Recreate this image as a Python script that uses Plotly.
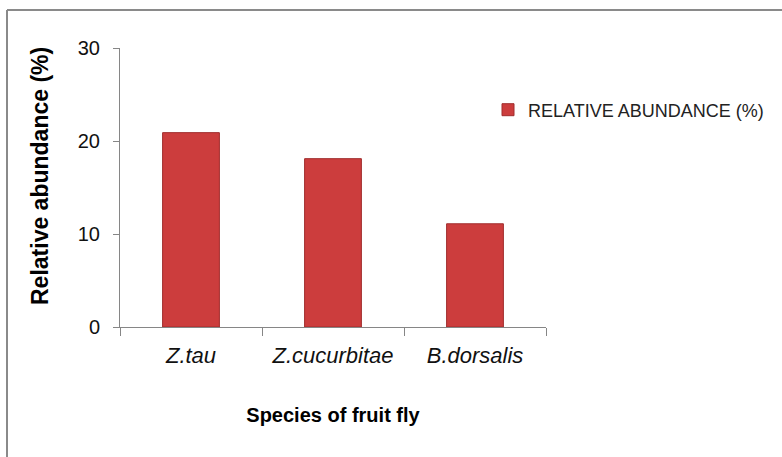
import plotly.graph_objects as go

species = ["Z.tau", "Z.cucurbitae", "B.dorsalis"]
abundance = [20.9, 18.1, 11.1]
y_ticks = [0, 10, 20, 30]
series_name = "RELATIVE ABUNDANCE (%)"
x_title = "Species of fruit fly"
y_title = "Relative abundance (%)"

W, H = 782, 457
ML, MR, MT, MB = 120, 236, 48, 130
pw = W - ML - MR
ph = H - MT - MB

fig = go.Figure()
fig.add_trace(go.Bar(
    x=species, y=abundance, name=series_name,
    marker=dict(color="#cc3d3d", line=dict(color="#a12d2d", width=1)),
    width=0.4, showlegend=True,
))

font = "Liberation Sans, Arial, sans-serif"
fig.update_layout(
    width=W, height=H,
    margin=dict(l=ML, r=MR, t=MT, b=MB, autoexpand=False),
    paper_bgcolor="white", plot_bgcolor="white",
    font=dict(family=font, color="#000000"),
    showlegend=True,
    legend=dict(x=(488 - ML) / pw, xanchor="left", y=(MT + ph - 110) / ph, yanchor="middle",
                font=dict(size=18, family=font, color="#222222"),
                itemwidth=30, bgcolor="rgba(0,0,0,0)"),
    xaxis=dict(
        showline=True, linecolor="#868686", linewidth=1,
        ticks="outside", tickson="boundaries", ticklen=8, tickcolor="#868686",
        tickfont=dict(size=22, family=font, style="italic", color="#111111"),
        ticklabelstandoff=9,
        title=dict(text="<b>" + x_title + "</b>", font=dict(size=20, family=font),
                   standoff=40),
        showgrid=False,
    ),
    yaxis=dict(
        range=[0, 30], tickvals=y_ticks,
        showline=True, linecolor="#868686", linewidth=1,
        ticks="outside", ticklen=6, tickcolor="#868686",
        tickfont=dict(size=20, family=font, color="#111111"),
        ticklabelstandoff=9,
        showgrid=False, zeroline=False,
    ),
)

# y-axis title placed as an annotation (sits slightly above the plot centre)
fig.add_annotation(text="<b>" + y_title + "</b>", xref="paper", yref="paper",
                   x=(40 - ML) / pw, y=(MT + ph - 176) / ph, textangle=-90,
                   showarrow=False, xanchor="center", yanchor="middle",
                   font=dict(size=23, family=font, color="#000000"))

# outer border (top and left lines of the chart frame)
bx = (7 - ML) / pw
by = (MT + ph - 10) / ph
fig.add_shape(type="line", xref="paper", yref="paper",
              x0=bx, x1=(W - ML) / pw, y0=by, y1=by,
              line=dict(color="#8a8a8a", width=2))
fig.add_shape(type="line", xref="paper", yref="paper",
              x0=bx, x1=bx, y0=-MB / ph, y1=by,
              line=dict(color="#8a8a8a", width=2))

fig.write_html("out.html", config={"displayModeBar": False},
               post_script="document.body.style.margin='0px';")
